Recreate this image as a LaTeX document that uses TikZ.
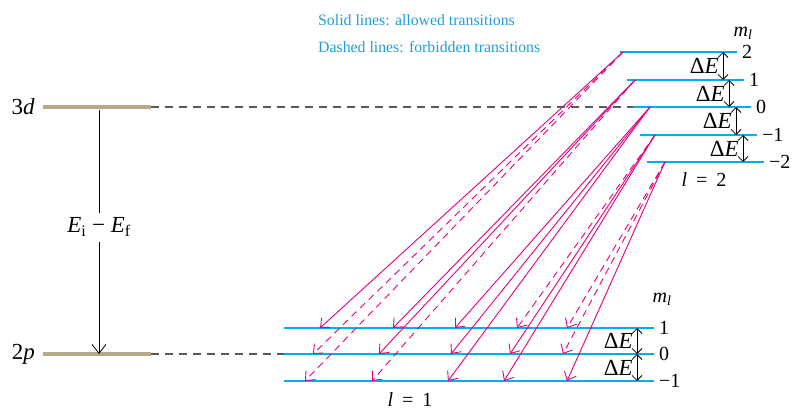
\documentclass[tikz,border=0pt]{standalone}
\usepackage{fontspec}
\setmainfont{Liberation Serif}
\usepackage{tikz}
\usetikzlibrary{arrows.meta, calc}
\definecolor{mycyan}{RGB}{0,174,239}
\definecolor{mytext}{RGB}{30,158,214}
\definecolor{mymagenta}{RGB}{230,0,126}
\definecolor{mytan}{RGB}{181,168,134}
\definecolor{mygray}{RGB}{90,90,90}
\newcommand{\ital}[1]{\textit{#1}}
\newcommand{\sbs}[1]{\textsubscript{#1}}
\newcommand{\eqsp}{\hspace{0.45em}=\hspace{0.45em}}
\tikzset{
  level/.style={line width=2.6pt, color=mycyan},
  shell/.style={line width=3.6pt, color=mytan},
  guide/.style={line width=1.3pt, color=mygray, dash pattern=on 8pt off 6pt},
  trans/.style={-{Straight Barb[length=7.5pt, width=13pt]}, line width=0.9pt, color=mymagenta},
  forbid/.style={dash pattern=on 7pt off 5pt},
  gap/.style={{Straight Barb[length=5pt, width=10pt]}-{Straight Barb[length=5pt, width=10pt]}, line width=0.8pt},
  energy/.style={-{Straight Barb[length=9pt, width=14pt]}, line width=0.8pt},
  lbl/.style={font=\fontsize{20}{22}\selectfont, inner sep=1pt},
  biglbl/.style={font=\fontsize{23}{25}\selectfont, inner sep=1pt},
  legend/.style={font=\fontsize{15.8}{19}\selectfont, color=mytext, anchor=west, inner sep=0pt}
}

\begin{document}
\begin{tikzpicture}[x=1pt, y=-1pt]
  \useasboundingbox (0,0) rectangle (793,412);
  % Legend
  \node[legend] (solidtxt) at (318,20) {Solid lines: allowed transitions};
  \node[legend] (dashtxt) at (318,47) {Dashed lines: forbidden transitions};
  % Shells 3d and 2p
  \draw[shell] (43,107) coordinate (t3dL) -- (151,107) coordinate (t3d);
  \draw[shell] (43,354) coordinate (t2pL) -- (151,354) coordinate (t2p);
  \node[biglbl, anchor=east, xshift=-7pt] (n3d) at (t3dL) {3\ital{d}};
  \node[biglbl, anchor=east, xshift=-7pt] (n2p) at (t2pL) {2\ital{p}};
  \draw[energy] (99,110) -- node[biglbl, pos=0.48, fill=white, inner sep=5pt] (ediff) {\ital{E}\sbs{i} − \ital{E}\sbs{f}} (99,0 |- t2p);
  % Upper levels, l = 2
  \draw[level] (620,52) coordinate (u2L) -- (737,52) coordinate (u2R);
  \draw[level] (627,80) coordinate (u1L) -- (744,80) coordinate (u1R);
  \draw[level] (633,107) coordinate (u0L) -- (751,107) coordinate (u0R);
  \draw[level] (640,135) coordinate (un1L) -- (757,135) coordinate (un1R);
  \draw[level] (647,162) coordinate (un2L) -- (764,162) coordinate (un2R);
  \node[lbl, anchor=west] (m2) at ($(u2R)+(4,0)$) {2};
  \node[lbl, anchor=west] (m1) at ($(u1R)+(4,0)$) {1};
  \node[lbl, anchor=west] (m0) at ($(u0R)+(4,0)$) {0};
  \node[lbl, anchor=west] (mn1) at ($(un1R)+(4,0)$) {−1};
  \node[lbl, anchor=west] (mn2) at ($(un2R)+(4,0)$) {−2};
  \node[lbl] (mlup) at (743,33) {\ital{m}\sbs{\ital{l}}};
  \node[lbl] (lup) at (704,180) {\ital{l}\eqsp2};
  % Lower levels, l = 1
  \draw[level] (284,328) coordinate (d1L) -- (654,328) coordinate (d1R);
  \draw[level] (284,354) coordinate (d0L) -- (654,354) coordinate (d0R);
  \draw[level] (284,381) coordinate (dn1L) -- (654,381) coordinate (dn1R);
  \node[lbl, anchor=west] (k1) at ($(d1R)+(4,0)$) {1};
  \node[lbl, anchor=west] (k0) at ($(d0R)+(4,0)$) {0};
  \node[lbl, anchor=west] (kn1) at ($(dn1R)+(4,0)$) {−1};
  \node[lbl] (mllow) at (662,299) {\ital{m}\sbs{\ital{l}}};
  \node[lbl] (llow) at (410,400) {\ital{l}\eqsp1};
  % Dashed guides
  \draw[guide] (t3d) -- (u0L);
  \draw[guide] (t2p) -- (d0L);
  % Level spacings
  \foreach \a/\b/\x in {u2R/u1R/723, u1R/u0R/729, u0R/un1R/736, un1R/un2R/743}
    \draw[gap] (\x,0 |- \a) -- node[biglbl, anchor=east, xshift=-3pt] {Δ\ital{E}} (\x,0 |- \b);
  \foreach \a/\b in {d1R/d0R, d0R/dn1R}
    \draw[gap] (637,0 |- \a) -- node[biglbl, anchor=east, xshift=-3pt] {Δ\ital{E}} (637,0 |- \b);
  % Start and end points of the transitions
  \coordinate (s2) at (623,52);
  \coordinate (s1) at (635,80);
  \coordinate (s0) at (650,107);
  \coordinate (sn1) at (655,135);
  \coordinate (sn2) at (665,162);
  \coordinate (e2p1) at (320,328);
  \coordinate (e20) at (313,354);
  \coordinate (e2n1) at (305,381);
  \coordinate (e1p1) at (393,328);
  \coordinate (e10) at (379,354);
  \coordinate (e1n1) at (372,381);
  \coordinate (e0p1) at (455,328);
  \coordinate (e00) at (451,354);
  \coordinate (e0n1) at (448,381);
  \coordinate (en1p1) at (517,328);
  \coordinate (en10) at (510,354);
  \coordinate (en1n1) at (504,381);
  \coordinate (en2p1) at (567,328);
  \coordinate (en20) at (563,354);
  \coordinate (en2n1) at (567,381);
  % Transitions
  \foreach \s/\e/\st in {s2/e2p1/solid, s2/e20/forbid, s2/e2n1/forbid,
      s1/e1p1/solid, s1/e10/solid, s1/e1n1/forbid,
      s0/e0p1/solid, s0/e00/solid, s0/e0n1/solid,
      sn1/en1p1/forbid, sn1/en10/solid, sn1/en1n1/solid,
      sn2/en2p1/forbid, sn2/en20/forbid, sn2/en2n1/solid}
    \draw[trans, \st] (\s) -- (\e);
\end{tikzpicture}
\end{document}
